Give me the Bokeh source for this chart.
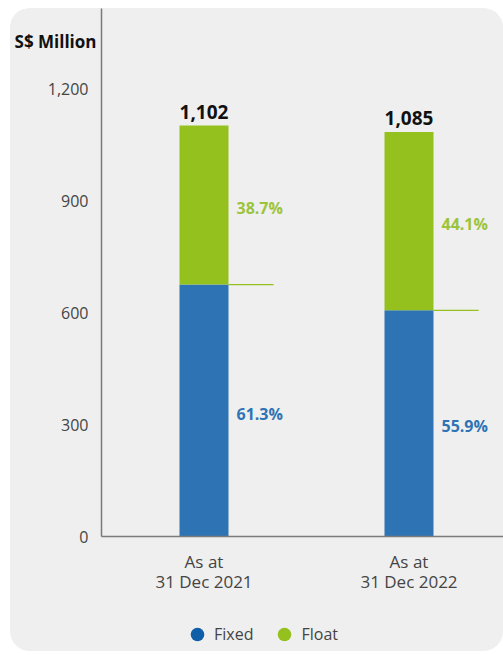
from bokeh.plotting import figure
from bokeh.layouts import column
from bokeh.models import (Range1d, FixedTicker, NumeralTickFormatter, Legend, LegendItem,
                          LinearAxis)
from bokeh.core.properties import value
from bokeh.embed import file_html
from bokeh.resources import INLINE

categories = ["As at\n31 Dec 2021", "As at\n31 Dec 2022"]
totals = [1102, 1085]
fixed_pct = [61.3, 55.9]
float_pct = [38.7, 44.1]
y_ticks = [0, 300, 600, 900, 1200]
unit_label = "S$ Million"
series_names = ["Fixed", "Float"]

fixed_vals = [t * pc / 100 for t, pc in zip(totals, fixed_pct)]
float_mid = [f + (t - f) / 2 for f, t in zip(fixed_vals, totals)]
fixed_mid = [f / 2 for f in fixed_vals]
xs = [0.5 + i for i in range(len(categories))]

FONT = "Open Sans"
BG = "#efefef"
BLUE = "#2E74B5"
GREEN = "#95C11F"
BW = 0.239
LINE_LEN = 0.22
Y_MAX = 1416
UNIT_POS = 1328

p = figure(width=493, height=592, output_backend="svg", toolbar_location=None,
           x_range=Range1d(0, 1.961), y_range=Range1d(0, Y_MAX),
           min_border_left=91, min_border_right=0, min_border_top=0, min_border_bottom=64,
           background_fill_color=BG, border_fill_color=BG, outline_line_color=None)
p.grid.visible = False

p.vbar(x=xs, bottom=0, top=fixed_vals, width=BW, fill_color=BLUE, line_color=None)
p.vbar(x=xs, bottom=fixed_vals, top=totals, width=BW, fill_color=GREEN, line_color=None)

right_edges = [x + BW / 2 for x in xs]
p.segment(x0=right_edges, y0=fixed_vals, x1=[r + LINE_LEN for r in right_edges], y1=fixed_vals,
          line_color=GREEN, line_width=1.2)

p.text(x=right_edges, y=fixed_mid, text=[f"{v}%" for v in fixed_pct], x_offset=8, y_offset=3,
       text_align="left", text_baseline="middle", text_font=value(FONT), text_font_style="bold",
       text_font_size="16px", text_color=BLUE)
p.text(x=right_edges, y=float_mid, text=[f"{v}%" for v in float_pct], x_offset=8, y_offset=3,
       text_align="left", text_baseline="middle", text_font=value(FONT), text_font_style="bold",
       text_font_size="16px", text_color="#9CC43A")
p.text(x=xs, y=totals, text=[f"{t:,}" for t in totals], y_offset=-7,
       text_align="center", text_baseline="bottom", text_font=value(FONT), text_font_style="bold",
       text_font_size="19px", text_color="#111111")

for ax in (p.xaxis[0], p.yaxis[0]):
    ax.axis_line_color = "#7a7a7a"
    ax.axis_line_width = 1.5
    ax.major_tick_line_color = None
    ax.minor_tick_line_color = None
    ax.major_label_text_font = FONT
    ax.major_label_text_color = "#444444"

p.yaxis.major_label_standoff = 7
p.yaxis.ticker = FixedTicker(ticks=y_ticks)
p.yaxis.formatter = NumeralTickFormatter(format="0,0")
p.yaxis.major_label_text_font_size = "16px"
p.xaxis.major_label_standoff = 7
p.xaxis.ticker = FixedTicker(ticks=xs)
p.xaxis.major_label_overrides = {x: c for x, c in zip(xs, categories)}
p.xaxis.major_label_text_font_size = "17px"
p.xaxis.major_label_text_line_height = 0.9

unit_axis = LinearAxis(ticker=FixedTicker(ticks=[UNIT_POS]),
                       major_label_overrides={UNIT_POS: unit_label},
                       axis_line_color=None, major_tick_line_color=None,
                       minor_tick_line_color=None, major_label_standoff=-58,
                       major_label_text_font=FONT, major_label_text_font_style="bold",
                       major_label_text_font_size="17px", major_label_text_color="#111111")
p.add_layout(unit_axis, "left")

# legend strip below the chart (transparent; the card colour comes from the column)
lg = figure(width=493, height=51, output_backend="svg", toolbar_location=None,
            x_range=Range1d(0, 1), y_range=Range1d(0, 1),
            x_axis_location=None, y_axis_location=None,
            min_border_left=0, min_border_right=0, min_border_top=0, min_border_bottom=0,
            background_fill_alpha=0, border_fill_alpha=0, outline_line_color=None)
lg.grid.visible = False
# legend-only renderers: their single point lies outside the visible ranges
r1 = lg.scatter(x=[-5], y=[-5], marker="circle", size=14, fill_color="#0E5EA8", line_color=None)
r2 = lg.scatter(x=[-5], y=[-5], marker="circle", size=14, fill_color=GREEN, line_color=None)
legend = Legend(items=[LegendItem(label=series_names[0], renderers=[r1]),
                       LegendItem(label=series_names[1], renderers=[r2])],
                orientation="horizontal", location=(79, 0), glyph_width=34, glyph_height=34,
                label_standoff=-8, spacing=14, padding=0, margin=0, border_line_color=None,
                background_fill_alpha=0, label_text_font=FONT, label_text_font_size="16px",
                label_text_color="#444444")
lg.add_layout(legend, "center")

layout = column(p, lg, spacing=0, margin=(8, 0, 0, 10),
                styles={"border-radius": "20px", "overflow": "hidden",
                        "background-color": BG})

open("out.html", "w").write(file_html(layout, INLINE))
